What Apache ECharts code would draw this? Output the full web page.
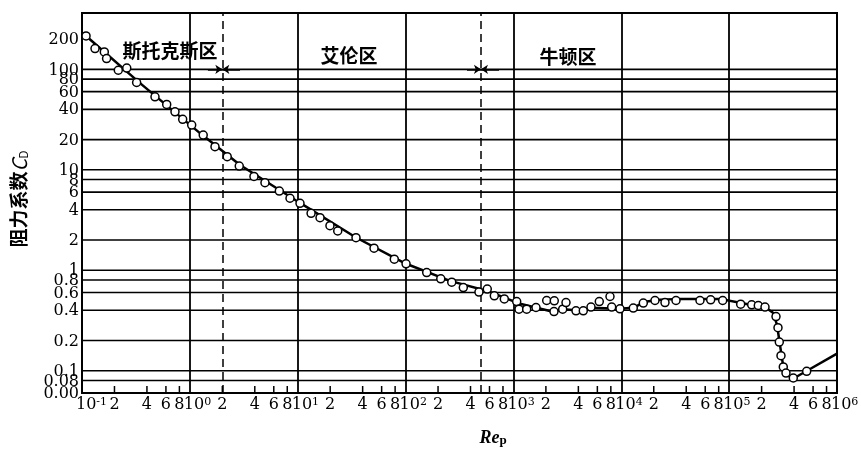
<!DOCTYPE html>
<html>
<head>
<meta charset="utf-8">
<script src="https://cdn.jsdelivr.net/npm/echarts@6/dist/echarts.min.js"></script>
<style>html,body{margin:0;padding:0;background:#fff}#c{width:861px;height:449px}</style>
</head>
<body>
<div id="c"></div>
<script>
// ---- data ----
const pointRe = [0.109,0.132,0.161,0.169,0.217,0.26,0.321,0.475,0.61,0.728,0.858,1.04,1.33,1.71,2.22,2.87,3.93,4.97,6.75,8.48,10.5,13.3,16.1,19.9,23.5,34.7,51,78.6,101,157,212,268,343,479,572,665,823,1072,1126,1327,1619,2034,2392,2377,2862,3072,3802,4443,5238,6252,7857,8147,9727,12920,16000,20530,25420,32150,53650,67430,87120,127900,161800,186300,215000,271900,283700,291700,302400,317700,336500,393300,523500];
const pointCd = [215,161,149,128,98,103,74,53.3,44.8,37.8,31.8,27.9,22.2,17.0,13.5,10.9,8.6,7.44,6.15,5.21,4.64,3.69,3.34,2.78,2.46,2.11,1.66,1.29,1.16,0.949,0.821,0.761,0.673,0.606,0.649,0.556,0.519,0.488,0.41,0.41,0.426,0.5,0.496,0.388,0.41,0.477,0.395,0.395,0.43,0.488,0.548,0.43,0.413,0.42,0.471,0.5,0.477,0.5,0.5,0.508,0.5,0.46,0.453,0.446,0.43,0.346,0.268,0.193,0.141,0.109,0.0948,0.0846,0.0985];
const curveRe = [0.102,0.345,1.24,2.92,10.5,34.7,101,258,606,1151,2327,2862,4443,5126,9727,12840,16590,22850,35010,82270,126000,219600,255000,277700,296000,315600,343800,390700,526900,1000000];
const curveCd = [229,72.9,23.2,11.16,4.68,2.12,1.16,0.784,0.61,0.4635,0.386,0.41,0.395,0.423,0.413,0.423,0.485,0.508,0.519,0.519,0.474,0.423,0.377,0.287,0.181,0.115,0.0912,0.0832,0.1,0.148];

const xMin = 0.1, xMax = 1000000, yMin = 0.06, yMax = 364;
const xMinorTicks = [0.2,0.4,0.6,0.8,2,4,6,8,20,40,60,80,200,400,600,800,2000,4000,6000,8000,20000,40000,60000,80000,200000,400000,600000,800000];
const xLabelValues = [0.1,0.2,0.4,0.6,0.8,1,2,4,6,8,10,20,40,60,80,100,200,400,600,800,1000,2000,4000,6000,8000,10000,20000,40000,60000,80000,100000,200000,400000,600000,800000,1000000];
const xLabelTexts = ['10{s|-1}','2','4','6','8','10{s|0}','2','4','6','8','10{s|1}','2','4','6','8','10{s|2}','2','4','6','8','10{s|3}','2','4','6','8','10{s|4}','2','4','6','8','10{s|5}','2','4','6','8','10{s|6}'];
const yGridValues = [100,80,60,40,20,10,8,6,4,2,1,0.8,0.6,0.4,0.2,0.1,0.08];
const yLabelValues = [200,100,80,60,40,20,10,8,6,4,2,1,0.8,0.6,0.4,0.2,0.1,0.08,0.06];
const yLabelTexts = ['200','100','80','60','40','20','10','8','6','4','2','1','0.8','0.6','0.4','0.2','0.1','0.08','0.00'];
const regionBounds = [2, 500];
const regionNames = ['斯托克斯区','艾伦区','牛顿区'];
const arrowLevel = 100;

const serif = '"DejaVu Serif","Liberation Serif",serif';
const tserif = '"Liberation Serif","DejaVu Serif",serif';
const cjk = '"Noto Sans CJK SC","Noto Sans",sans-serif';

const chart = echarts.init(document.getElementById('c'), null, {renderer:'canvas'});

const option = {
  animation: false,
  backgroundColor: '#fff',
  grid: {left: 82, right: 24, top: 13, bottom: 56, show: true, borderColor: '#000', borderWidth: 2, backgroundColor: 'transparent'},
  xAxis: {
    type: 'log', logBase: 10, min: xMin, max: xMax,
    axisLine: {show: true, lineStyle: {color: '#000', width: 2}},
    axisTick: {show: false}, axisLabel: {show: false},
    splitLine: {show: true, lineStyle: {color: '#000', width: 1.8}}
  },
  yAxis: {
    type: 'log', logBase: 10, min: yMin, max: yMax,
    axisLine: {show: true, lineStyle: {color: '#000', width: 2}},
    axisTick: {show: false}, axisLabel: {show: false},
    splitLine: {show: false}
  },
  graphic: [
    {type: 'text', x: 170, y: 51, style: {text: regionNames[0], align: 'center', verticalAlign: 'middle', textAlign: 'center', textVerticalAlign: 'middle', font: 'bold 19px ' + cjk, fill: '#000'}},
    {type: 'text', x: 349, y: 56, style: {text: regionNames[1], align: 'center', verticalAlign: 'middle', textAlign: 'center', textVerticalAlign: 'middle', font: 'bold 19px ' + cjk, fill: '#000'}},
    {type: 'text', x: 568, y: 57, style: {text: regionNames[2], align: 'center', verticalAlign: 'middle', textAlign: 'center', textVerticalAlign: 'middle', font: 'bold 19px ' + cjk, fill: '#000'}},
    {type: 'text', x: 19, y: 199, rotation: Math.PI / 2, style: {
      text: '阻力系数{c|C}{d|D}', align: 'center', verticalAlign: 'middle', textAlign: 'center', textVerticalAlign: 'middle',
      font: 'bold 19px ' + cjk, fill: '#000',
      rich: {c: {fontFamily: cjk, fontStyle: 'italic', fontSize: 20, fontWeight: 'normal'}, d: {fontFamily: cjk, fontSize: 12, verticalAlign: 'bottom', fontWeight: 'normal'}}
    }},
    {type: 'text', x: 493, y: 438, style: {
      text: 'Re{p|p}', align: 'center', verticalAlign: 'middle', textAlign: 'center', textVerticalAlign: 'middle',
      font: 'italic bold 18px ' + tserif, fill: '#000',
      rich: {p: {fontFamily: tserif, fontStyle: 'normal', fontWeight: 'bold', fontSize: 13, verticalAlign: 'bottom'}}
    }}
  ],
  series: [
    {
      name: 'ygrid', type: 'custom', silent: true, clip: false,
      data: yGridValues.map(v => [xMin, v]),
      renderItem: function (params, api) {
        const a = api.coord([xMin, api.value(1)]);
        const b = api.coord([xMax, api.value(1)]);
        return {type: 'line', shape: {x1: a[0], y1: a[1], x2: b[0], y2: b[1]}, style: {stroke: '#000', lineWidth: 1.6}};
      }
    },
    {
      name: 'ylabels', type: 'custom', silent: true, clip: false,
      data: yLabelValues.map(v => [xMin, v]),
      renderItem: function (params, api) {
        const p = api.coord([xMin, api.value(1)]);
        return {type: 'text', style: {text: yLabelTexts[params.dataIndex], x: p[0] - 3, y: p[1] + 1, align: 'right', verticalAlign: 'middle', fontFamily: serif, fontSize: 16, fill: '#000'}};
      }
    },
    {
      name: 'xticks', type: 'custom', silent: true, clip: false,
      data: xMinorTicks.map(v => [v, yMin]),
      renderItem: function (params, api) {
        const p = api.coord([api.value(0), yMin]);
        return {type: 'line', shape: {x1: p[0], y1: p[1], x2: p[0], y2: p[1] - 7}, style: {stroke: '#000', lineWidth: 1.5}};
      }
    },
    {
      name: 'xlabels', type: 'custom', silent: true, clip: false,
      data: xLabelValues.map(v => [v, yMin]),
      renderItem: function (params, api) {
        const p = api.coord([api.value(0), yMin]);
        const t = xLabelTexts[params.dataIndex];
        const pow = t.indexOf('{') >= 0;
        return {type: 'text', style: {
          text: t, x: pow ? p[0] - 6 : p[0], y: p[1] + 12, align: pow ? 'left' : 'center', verticalAlign: 'middle',
          fontFamily: serif, fontSize: 16, fill: '#000',
          rich: {s: {fontFamily: serif, fontSize: 11, verticalAlign: 'top', fill: '#000'}}
        }};
      }
    },
    {
      name: 'curve', type: 'line', silent: true,
      data: curveRe.map((x, i) => [x, curveCd[i]]),
      showSymbol: false, symbol: 'none',
      lineStyle: {color: '#000', width: 2.5},
      itemStyle: {color: '#000'},
      markLine: {
        silent: true, symbol: ['none', 'arrow'], symbolSize: 7,
        label: {show: false},
        itemStyle: {color: '#000'},
        lineStyle: {color: '#000', width: 1.5, type: 'solid'},
        data: [
          [{coord: [1.47, arrowLevel]}, {coord: [regionBounds[0], arrowLevel]}],
          [{coord: [2.92, arrowLevel]}, {coord: [regionBounds[0], arrowLevel]}],
          [{coord: [371, arrowLevel]}, {coord: [regionBounds[1], arrowLevel]}],
          [{coord: [735, arrowLevel]}, {coord: [regionBounds[1], arrowLevel]}]
        ]
      }
    },
    {
      name: 'points', type: 'scatter', silent: true,
      data: pointRe.map((x, i) => [x, pointCd[i]]),
      symbol: 'circle', symbolSize: 8,
      itemStyle: {color: '#fff', borderColor: '#000', borderWidth: 1.5, opacity: 1},
      z: 5,
      markLine: {
        silent: true, symbol: ['none', 'none'],
        label: {show: false},
        lineStyle: {color: '#000', width: 1.5, type: [8, 5]},
        data: regionBounds.map(v => ({xAxis: v}))
      }
    }
  ]
};
chart.setOption(option);
</script>
</body>
</html>
